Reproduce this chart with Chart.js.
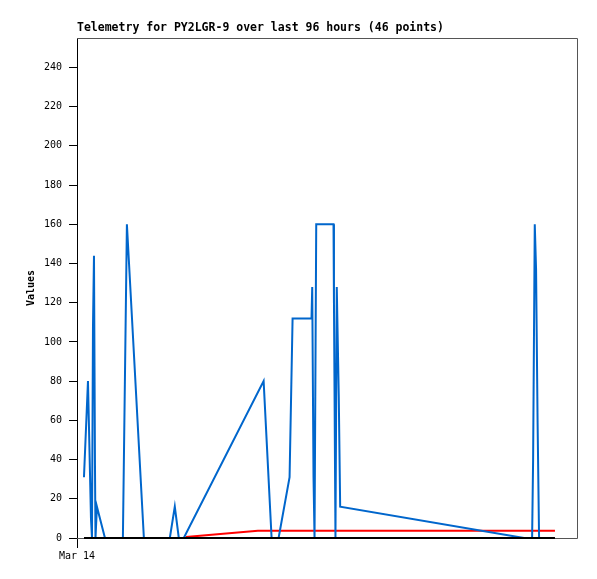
<!DOCTYPE html>
<html>
<head>
<meta charset="utf-8">
<script src="https://cdn.jsdelivr.net/npm/chart.js@4.4.1/dist/chart.umd.min.js"></script>
<style>
html, body { margin: 0; padding: 0; background: #fff; }
</style>
</head>
<body>
<canvas id="telemetryChart" width="597" height="579"></canvas>
<script>
// 图表数据（小时，从 Mar 14 00:00 起算）
const chartTitle = 'Telemetry for PY2LGR-9 over last 96 hours (46 points)';
const yAxisTitle = 'Values';
const xTickValues = [0];
const xTickLabels = ['Mar 14'];
const yTickValues = [0, 20, 40, 60, 80, 100, 120, 140, 160, 180, 200, 220, 240];

const blueHours = [1.39, 2.19, 2.79, 2.99, 3.19, 3.39, 3.59, 3.69, 3.98, 5.58,
    9.16, 9.96, 13.35, 18.53, 19.52, 20.32, 21.31, 37.25, 38.84, 40.24,
    42.43, 43.03, 46.81, 46.95, 47.21, 47.41, 47.75, 51.20, 51.29, 51.59,
    51.85, 52.25, 52.53, 89.24, 90.84, 91.04, 91.37, 91.63, 91.93, 92.23];
const blueValues = [31, 80, 10, 0, 108, 144, 36, 0, 16, 0,
    0, 160, 0, 0, 16, 0, 0, 80, 0, 0,
    31, 112, 112, 128, 31, 0, 160, 160, 120, 0,
    128, 72, 16, 0, 0, 40, 160, 137, 60, 0];

const redHours = [21.7, 36.1, 95.4];
const redValues = [0.5, 3.7, 3.7];

const blackHours = [1.4, 95.4];
const blackValues = [0, 0];

const xMin = 0;
const xMax = 100;
const yMin = 0;
const yMax = 255;

function toPoints(xs, ys) {
    return xs.map((x, i) => ({ x: x, y: ys[i] }));
}

// 标题和外框
const framePlugin = {
    id: 'frame',
    beforeDatasetsDraw: function(chart) {
        const a = chart.chartArea;
        const ctx = chart.ctx;
        ctx.save();
        ctx.strokeStyle = '#555';
        ctx.lineWidth = 1;
        ctx.beginPath();
        ctx.moveTo(a.left, a.top + 0.5);
        ctx.lineTo(a.right - 0.5, a.top + 0.5);
        ctx.lineTo(a.right - 0.5, a.bottom + 0.5);
        ctx.lineTo(a.left, a.bottom + 0.5);
        ctx.stroke();
        ctx.restore();
    },
    afterDraw: function(chart) {
        const ctx = chart.ctx;
        ctx.save();
        ctx.fillStyle = '#000';
        ctx.font = 'bold 11.5px "DejaVu Sans Mono"';
        ctx.textBaseline = 'alphabetic';
        ctx.textAlign = 'left';
        ctx.fillText(chartTitle, chart.chartArea.left, 31);
        ctx.restore();
    }
};

const ctx = document.getElementById('telemetryChart');
new Chart(ctx, {
    type: 'line',
    data: {
        datasets: [{
            label: 'black',
            data: toPoints(blackHours, blackValues),
            borderColor: '#000000',
            borderWidth: 2,
            pointRadius: 0,
            tension: 0,
            clip: 4
        }, {
            label: 'blue',
            data: toPoints(blueHours, blueValues),
            borderColor: '#0066cc',
            borderWidth: 2,
            pointRadius: 0,
            tension: 0,
            clip: 4
        }, {
            label: 'red',
            data: toPoints(redHours, redValues),
            borderColor: '#ff0000',
            borderWidth: 2,
            pointRadius: 0,
            tension: 0,
            clip: 4
        }]
    },
    options: {
        responsive: false,
        animation: false,
        layout: {
            padding: { top: 38, right: 19, bottom: 0, left: 0 }
        },
        plugins: {
            legend: { display: false },
            title: { display: false },
            tooltip: { enabled: false }
        },
        scales: {
            x: {
                type: 'linear',
                min: xMin,
                max: xMax,
                afterFit: function(scale) { scale.height = 41; },
                afterBuildTicks: function(scale) {
                    scale.ticks = xTickValues.map(v => ({ value: v }));
                },
                grid: {
                    drawOnChartArea: false,
                    drawTicks: true,
                    tickLength: 10,
                    color: '#000'
                },
                border: { display: false },
                ticks: {
                    color: '#000',
                    padding: 2,
                    maxRotation: 0,
                    font: { family: 'DejaVu Sans Mono', size: 10 },
                    callback: function(value) {
                        const i = xTickValues.indexOf(value);
                        return i >= 0 ? xTickLabels[i] : '';
                    }
                }
            },
            y: {
                type: 'linear',
                min: yMin,
                max: yMax,
                afterFit: function(scale) { scale.width = 77; },
                afterBuildTicks: function(scale) {
                    scale.ticks = yTickValues.map(v => ({ value: v }));
                },
                grid: {
                    drawOnChartArea: false,
                    drawTicks: true,
                    tickLength: 8,
                    color: '#000'
                },
                border: { display: true, color: '#000', width: 1 },
                ticks: {
                    color: '#000',
                    padding: 7,
                    font: { family: 'DejaVu Sans Mono', size: 10 }
                },
                title: {
                    display: true,
                    text: yAxisTitle,
                    color: '#000',
                    font: { family: 'DejaVu Sans Mono', size: 10, weight: 'bold' },
                    padding: { top: 25, bottom: 0 }
                }
            }
        }
    },
    plugins: [framePlugin]
});
</script>
</body>
</html>
